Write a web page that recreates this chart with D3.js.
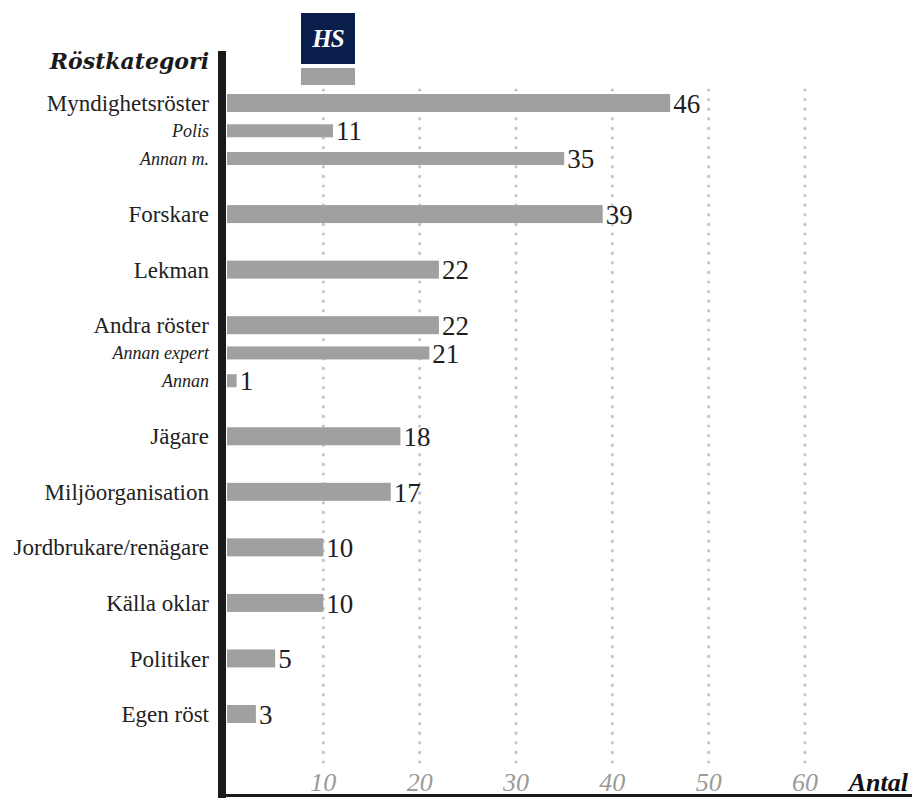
<!DOCTYPE html>
<html>
<head>
<meta charset="utf-8">
<script src="https://cdn.jsdelivr.net/npm/d3@7"></script>
<style>
  body { margin: 0; background: #fff; }
  svg { display: block; }
  text { font-family: 'Liberation Serif', 'DejaVu Serif', serif; }
</style>
</head>
<body>
<div id="chart"></div>
<script>
// rows top to bottom, sub rows belong to the main row above them
const categories = ['Myndighetsröster', 'Polis', 'Annan m.', 'Forskare', 'Lekman', 'Andra röster',
  'Annan expert', 'Annan', 'Jägare', 'Miljöorganisation', 'Jordbrukare/renägare', 'Källa oklar',
  'Politiker', 'Egen röst']
const values = [46, 11, 35, 39, 22, 22, 21, 1, 18, 17, 10, 10, 5, 3]
const subRow = [false, true, true, false, false, false, true, true, false, false, false, false, false, false]
const tickValues = [10, 20, 30, 40, 50, 60]

const width = 916
const height = 798

// main rows take a full slot, sub rows half a slot
let slot = -1
const rows = categories.map((name, i) => {
  slot += subRow[i] ? 0.5 : 1
  return { name, value: values[i], sub: subRow[i], slot }
})

const svg = d3.select('#chart').append('svg').attr('width', width).attr('height', height)

const x = d3.scaleLinear().domain([0, 60]).range([227, 805])
const y = d3.scaleLinear().domain([0, d3.max(rows, d => d.slot)]).range([103, 714])

// dotted grid
svg.append('g')
  .selectAll('line')
  .data(tickValues)
  .join('line')
  .attr('x1', d => x(d)).attr('x2', d => x(d))
  .attr('y1', 90).attr('y2', 766)
  .attr('stroke', '#c4c4c4')
  .attr('stroke-width', 3.2)
  .attr('stroke-linecap', 'round')
  .attr('stroke-dasharray', '0 9.6')

// tick labels
svg.append('g')
  .selectAll('text')
  .data(tickValues)
  .join('text')
  .attr('x', d => x(d)).attr('y', 791)
  .attr('text-anchor', 'middle')
  .attr('font-size', 26)
  .attr('font-style', 'italic')
  .attr('fill', '#9a9a9a')
  .text(d => d)

svg.append('text')
  .attr('x', 908).attr('y', 791)
  .attr('text-anchor', 'end')
  .attr('font-size', 26)
  .attr('font-style', 'italic')
  .attr('font-weight', 'bold')
  .attr('fill', '#111')
  .text('Antal')

// bars
svg.append('g')
  .selectAll('rect')
  .data(rows)
  .join('rect')
  .attr('x', x(0))
  .attr('y', d => y(d.slot) - (d.sub ? 6.5 : 9))
  .attr('width', d => x(d.value) - x(0))
  .attr('height', d => (d.sub ? 13 : 18))
  .attr('fill', '#a0a0a0')

// value labels
svg.append('g')
  .selectAll('text')
  .data(rows)
  .join('text')
  .attr('x', d => x(d.value) + 3)
  .attr('y', d => y(d.slot))
  .attr('dy', '0.36em')
  .attr('font-size', 27)
  .attr('fill', '#1e1e1e')
  .text(d => d.value)

// category labels
svg.append('g')
  .selectAll('text')
  .data(rows)
  .join('text')
  .attr('x', 209)
  .attr('y', d => y(d.slot))
  .attr('dy', '0.35em')
  .attr('text-anchor', 'end')
  .attr('font-size', d => (d.sub ? 18 : 23))
  .attr('font-style', d => (d.sub ? 'italic' : 'normal'))
  .attr('fill', '#222')
  .text(d => d.name)

// axes lines
svg.append('rect').attr('x', 218).attr('y', 51).attr('width', 8).attr('height', 747).attr('fill', '#1a1a1a')
svg.append('rect').attr('x', 218).attr('y', 794).attr('width', 694).attr('height', 3).attr('fill', '#1a1a1a')

svg.append('text')
  .attr('x', 209).attr('y', 69)
  .attr('text-anchor', 'end')
  .attr('font-size', 22)
  .attr('font-style', 'italic')
  .attr('font-weight', 'bold')
  .style('font-family', "'DejaVu Serif', serif")
  .attr('fill', '#1a1a1a')
  .text('Röstkategori')

// HS logo
const logo = svg.append('g').attr('transform', 'translate(301,13)')
logo.append('rect').attr('width', 54).attr('height', 51).attr('fill', '#0b1f4d')
logo.append('text')
  .attr('x', 27).attr('y', 34)
  .attr('text-anchor', 'middle')
  .attr('font-size', 25)
  .attr('font-style', 'italic')
  .attr('font-weight', 'bold')
  .style('letter-spacing', '-1px')
  .attr('fill', '#fff')
  .text('HS')
logo.append('rect').attr('y', 55).attr('width', 54).attr('height', 17).attr('fill', '#a0a0a0')
</script>
</body>
</html>
